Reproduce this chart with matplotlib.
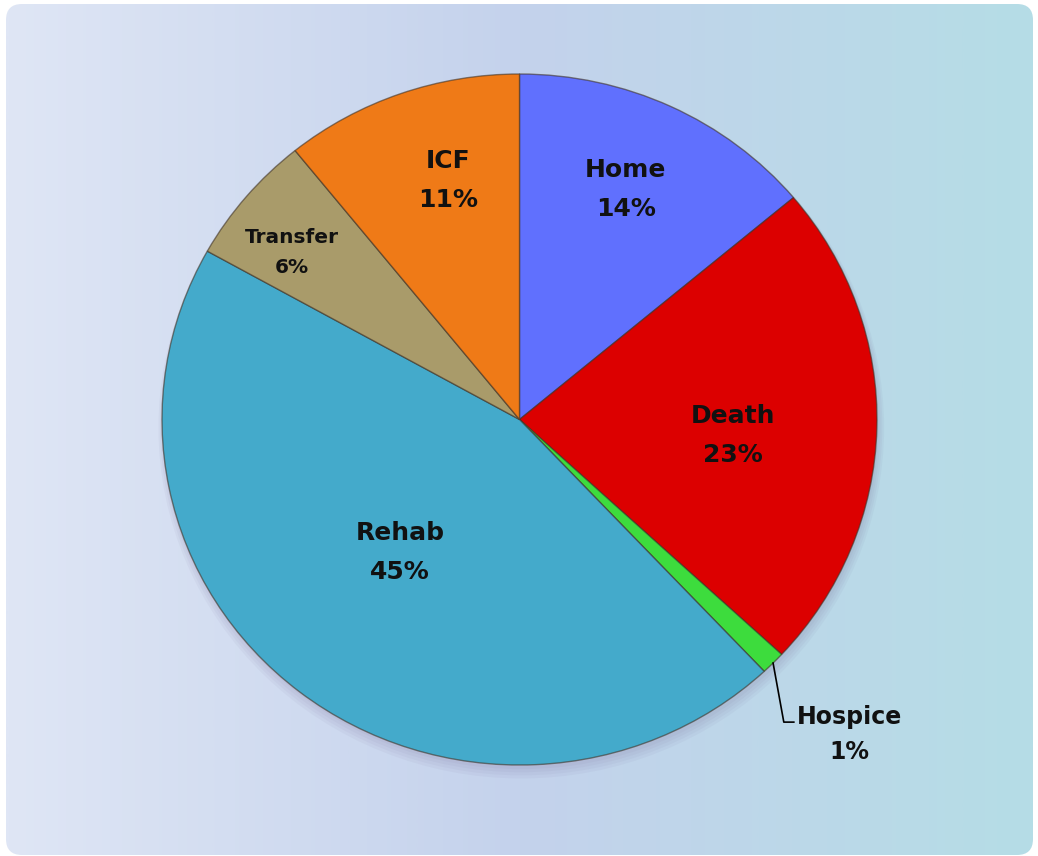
import numpy as np
import matplotlib
matplotlib.use("Agg")
import matplotlib.pyplot as plt
from matplotlib.colors import LinearSegmentedColormap
from matplotlib.patches import FancyBboxPatch, Ellipse

# slices, clockwise from 12 o'clock
categories = ["Home", "Death", "Hospice", "Rehab", "Transfer", "ICF"]
shares = [13.9, 23.0, 1.1, 45.1, 6.1, 10.8]
pct_labels = ["14%", "23%", "1%", "45%", "6%", "11%"]
colors = ["#6070fe", "#dc0000", "#3ddc3d", "#44aacb", "#a99b6a", "#ef7a17"]

# label placement: fraction of radius and angle nudge (None = outside with leader)
label_r = [0.73, 0.60, None, 0.51, 0.80, 0.72]
label_nudge = [1.0, -3.0, 0.0, -3.0, 3.0, -3.4]
label_size = [18, 18, 17, 18, 14.5, 18]
label_ls = [1.8, 1.8, 1.6, 1.8, 1.7, 1.8]

W, H = 1038, 856
fig = plt.figure(figsize=(W / 100, H / 100), dpi=100)
fig.patch.set_facecolor("white")

# background panel with horizontal gradient and rounded corners
bg = fig.add_axes([0, 0, 1, 1])
bg.set_xlim(0, W)
bg.set_ylim(H, 0)
bg.axis("off")
cmap = LinearSegmentedColormap.from_list(
    "bg", [(0, "#dfe6f5"), (0.5, "#c4d2ec"), (1, "#b5dde6")])
grad = np.linspace(0, 1, 512)[None, :]
im = bg.imshow(grad, cmap=cmap, extent=[6, 1033, 855, 4], aspect="auto")
panel = FancyBboxPatch((6, 4), 1027, 851, boxstyle="round,pad=0,rounding_size=16",
                       facecolor="none", edgecolor="none")
bg.add_patch(panel)
im.set_clip_path(panel)

# pie axes (slightly wider than tall, like the original)
ax = fig.add_axes([162 / W, (H - 765) / H, 715 / W, 691 / H])

# soft drop shadow
for i in range(4):
    ax.add_patch(Ellipse((0.005, -0.012 - 0.004 * i), 2.0 + 0.01 * i, 2.0 + 0.01 * i,
                         facecolor="#6a5a8a", alpha=0.05, edgecolor="none",
                         clip_on=False, zorder=0))

wedges, _ = ax.pie(shares, colors=colors, startangle=90, counterclock=False,
                   radius=1.0,
                   wedgeprops=dict(edgecolor=(0.25, 0.2, 0.15, 0.6), linewidth=1.0))
for w in wedges:
    w.set_zorder(2)
ax.set_aspect("auto")
ax.set_xlim(-1, 1)
ax.set_ylim(-1, 1)
ax.axis("off")

for w, name, pct, r, nd, fs, ls in zip(wedges, categories, pct_labels, label_r,
                                       label_nudge, label_size, label_ls):
    mid = np.deg2rad((w.theta1 + w.theta2) / 2 + nd)
    if r is not None:
        ax.text(r * np.cos(mid), r * np.sin(mid), f"{name}\n{pct}", ha="center",
                va="center", fontsize=fs, fontweight="bold", color="#111111",
                linespacing=ls, zorder=5)
    else:
        ex, ey = np.cos(mid), np.sin(mid)
        ax.plot([ex, ex + 0.03, ex + 0.058], [ey, ey - 0.171, ey - 0.171],
                color="black", lw=1.2, clip_on=False, zorder=5)
        ax.text(ex + 0.066, ey - 0.207, f"{name}\n{pct}", ha="left", va="center",
                multialignment="center", fontsize=fs, fontweight="bold",
                color="#111111", linespacing=ls, zorder=5)

fig.savefig("out.png", dpi=100)
